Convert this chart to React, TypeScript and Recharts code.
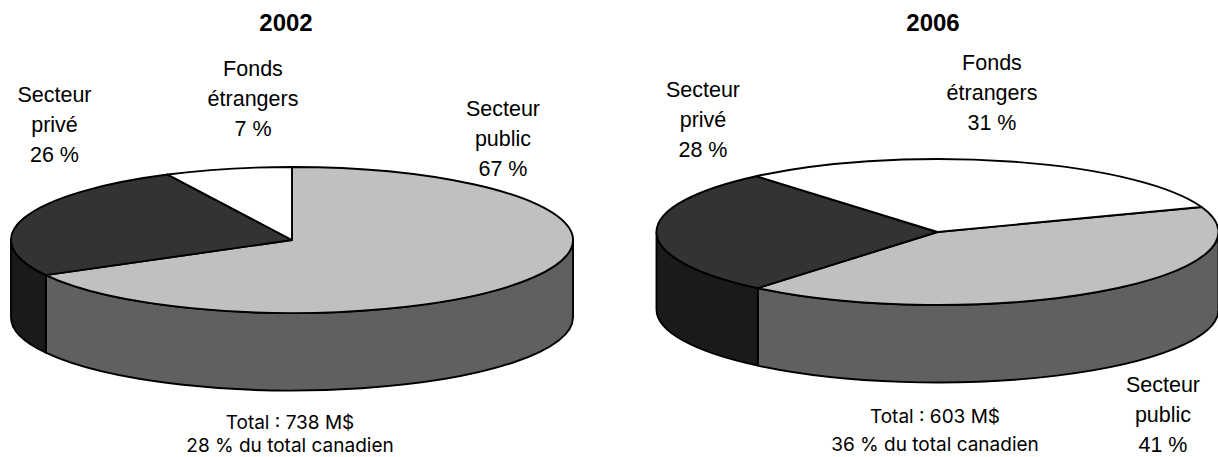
import React from "react";
import { PieChart, Pie, Cell } from "recharts";

const WIDTH = 1218;
const HEIGHT = 457;

// Data
const categories = ["Secteur public", "Secteur privé", "Fonds étrangers"];
const percents2002 = [67, 26, 7];
const percents2006 = [41, 28, 31];
const shares2002 = [67, 25.7, 7.3];
const shares2006 = [41.6, 27.8, 30.6];
const title2002 = "2002";
const title2006 = "2006";
const notes2002 = ["Total : 738 M$", "28 % du total canadien"];
const notes2006 = ["Total : 603 M$", "36 % du total canadien"];

// Styles
const topFills = ["#c0c0c0", "#333333", "#ffffff"];
const wallFills = ["#606060", "#1a1a1a", "#808080"];
const SQUASH = 73 / 281;
const DEPTH = 77.5;
const RAD = Math.PI / 180;
const STROKE = 1.9;
const LABEL_FONT = "'Liberation Sans', Arial, sans-serif";
const NOTE_FONT = "Inter, sans-serif";

const toRows = (values: number[]) =>
  categories.map((name, i) => ({ name, value: values[i] }));

const pt = (cx: number, cy: number, r: number, a: number) => [
  cx + r * Math.cos(a * RAD),
  cy - SQUASH * r * Math.sin(a * RAD),
];

const TopSlice = (p: any) => {
  const { cx, cy, outerRadius: r, startAngle: s, endAngle: e, fill } = p;
  const [x0, y0] = pt(cx, cy, r, s);
  const [x1, y1] = pt(cx, cy, r, e);
  const large = Math.abs(s - e) > 180 ? 1 : 0;
  const d = `M${cx},${cy}L${x0},${y0}A${r},${r * SQUASH} 0 ${large} 1 ${x1},${y1}Z`;
  return <path d={d} fill={fill} stroke="#000" strokeWidth={STROKE} strokeLinejoin="round" />;
};

const WallSlice = (p: any) => {
  const { cx, cy, outerRadius: r, startAngle, endAngle, fill } = p;
  const s = Math.min(startAngle, 0);
  const e = Math.max(endAngle, -180);
  if (s <= e) return <g />;
  const [x0, y0] = pt(cx, cy, r, s);
  const [x1, y1] = pt(cx, cy, r, e);
  const rr = r * SQUASH;
  const d = `M${x0},${y0}A${r},${rr} 0 0 1 ${x1},${y1}L${x1},${y1 + DEPTH}A${r},${rr} 0 0 0 ${x0},${y0 + DEPTH}Z`;
  return <path d={d} fill={fill} stroke="#000" strokeWidth={STROKE} strokeLinejoin="round" />;
};

const Block = ({ x, y, lines, step = 30, size = 21.5, font = LABEL_FONT, weight = 400 }: any) => (
  <text x={x} y={y} textAnchor="middle" fontFamily={font} fontSize={size} fontWeight={weight} fill="#000">
    {lines.map((t: string, i: number) => (
      <tspan key={i} x={x} y={y + i * step}>{t}</tspan>
    ))}
  </text>
);

const labelLines = (i: number, values: number[]) => [
  ...categories[i].split(" "),
  `${values[i]} %`,
];

export default function App() {
  const a = { data: toRows(shares2002), dataKey: "value", nameKey: "name", cx: 292, cy: 240, outerRadius: 281, startAngle: 90, endAngle: -270, isAnimationActive: false };
  const b = { data: toRows(shares2006), dataKey: "value", nameKey: "name", cx: 937.5, cy: 232, outerRadius: 281, startAngle: 20, endAngle: -340, isAnimationActive: false };
  return (
    <div style={{ position: "absolute", left: 0, top: 0, width: WIDTH, height: HEIGHT }}>
      <PieChart width={WIDTH} height={HEIGHT} margin={{ top: 0, right: 0, bottom: 0, left: 0 }}>
        {[a, b].map((cfg, k) => (
          <Pie key={`wall${k}`} {...cfg} shape={WallSlice} stroke="none">
            {wallFills.map((f, i) => <Cell key={i} fill={f} />)}
          </Pie>
        ))}
        {[a, b].map((cfg, k) => (
          <Pie key={`top${k}`} {...cfg} shape={TopSlice} stroke="none">
            {topFills.map((f, i) => <Cell key={i} fill={f} />)}
          </Pie>
        ))}
        <Block x={286} y={31} lines={[title2002]} size={24} weight={700} />
        <Block x={933} y={31} lines={[title2006]} size={24} weight={700} />
        <Block x={253} y={75.5} lines={labelLines(2, percents2002)} />
        <Block x={54.5} y={101.5} lines={labelLines(1, percents2002)} />
        <Block x={503} y={115.5} lines={labelLines(0, percents2002)} />
        <Block x={992} y={69.5} lines={labelLines(2, percents2006)} />
        <Block x={703} y={96.5} lines={labelLines(1, percents2006)} />
        <Block x={1163} y={391.5} lines={labelLines(0, percents2006)} />
        <Block x={290} y={428.5} lines={notes2002} step={23.5} size={19} font={NOTE_FONT} />
        <Block x={935} y={423} lines={notes2006} step={28} size={19} font={NOTE_FONT} />
      </PieChart>
    </div>
  );
}
